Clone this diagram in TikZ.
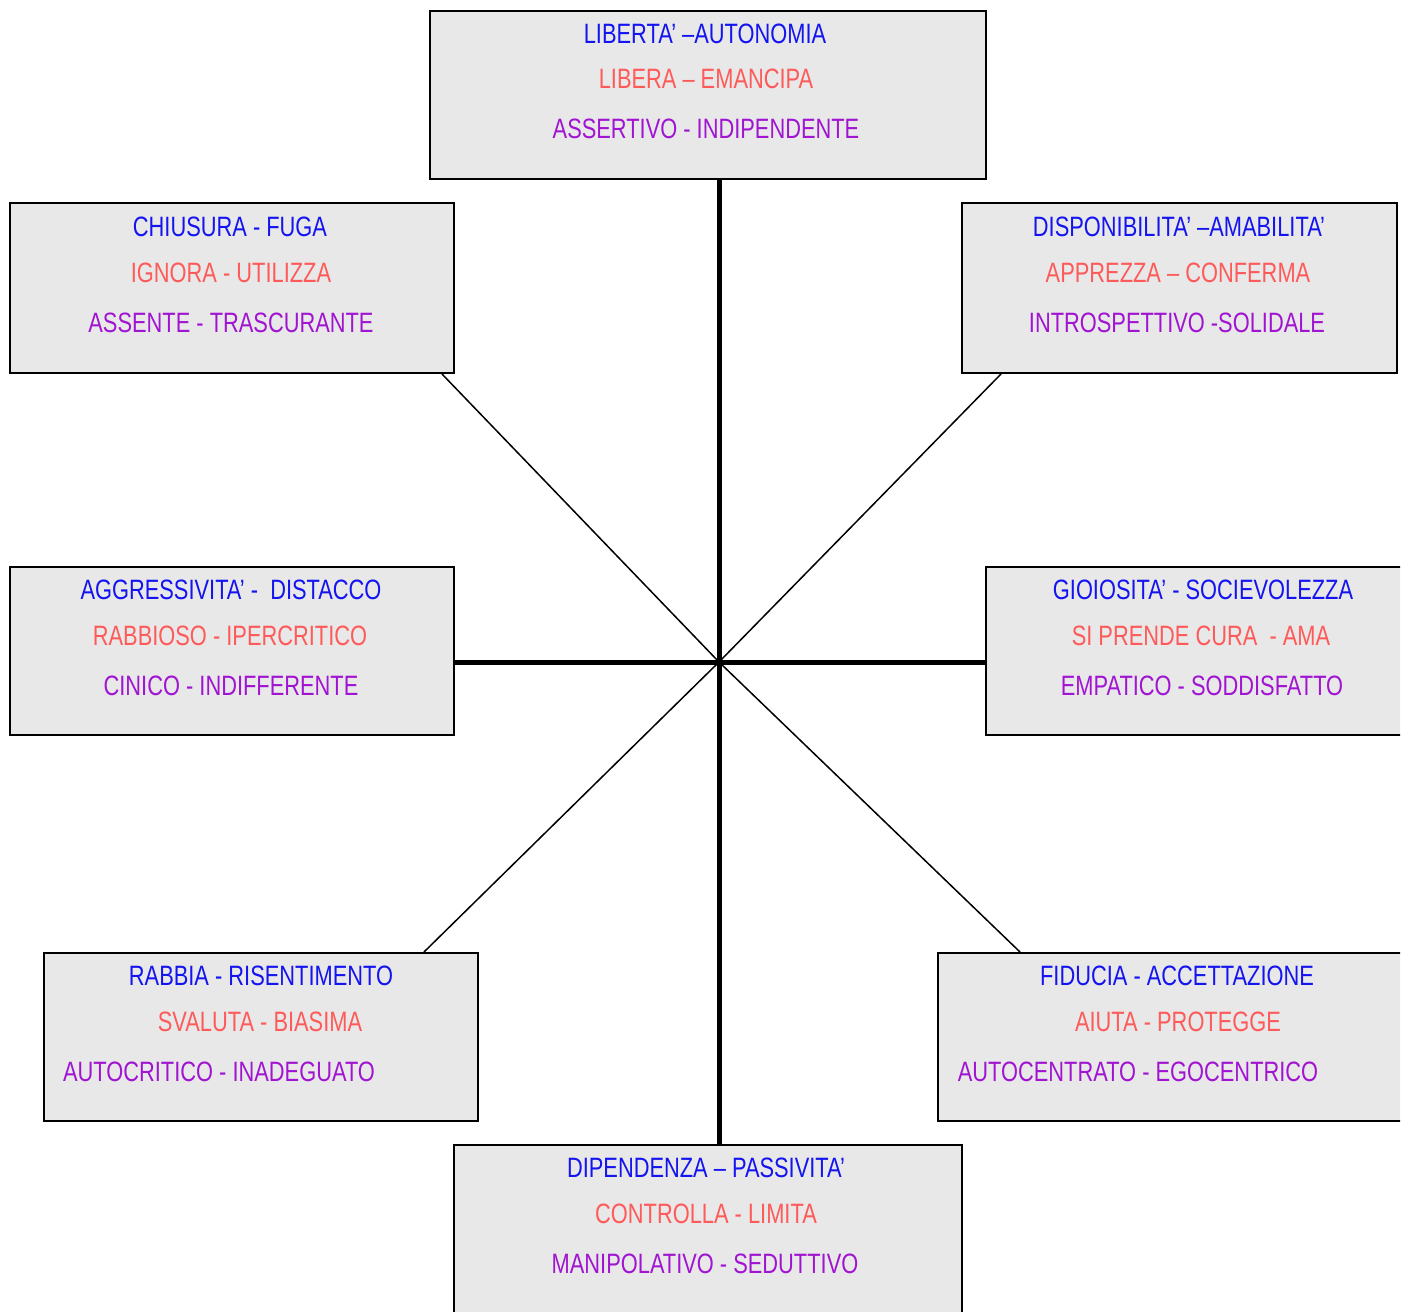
\documentclass[tikz,border=0pt]{standalone}
\usepackage{fontspec}
\setmainfont{Liberation Sans}[FakeStretch=0.78]
\usetikzlibrary{calc}
\definecolor{boxfill}{RGB}{232,232,232}
\definecolor{tblue}{RGB}{20,20,240}
\definecolor{tred}{RGB}{255,90,90}
\definecolor{tpurple}{RGB}{160,20,210}
\begin{document}
\begin{tikzpicture}[x=1pt,y=-1pt,
  box/.style={draw=black,line width=2pt,fill=boxfill,rectangle,inner sep=0pt,anchor=north west},
  lbl/.style={anchor=base,inner sep=0pt,font=\fontsize{28}{28}\selectfont},
  l1/.style={lbl,text=tblue},
  l2/.style={lbl,text=tred},
  l3/.style={lbl,text=tpurple},
  axis/.style={line width=5pt,draw=black},
  ray/.style={line width=1.5pt,draw=black}]
\useasboundingbox (0,0) rectangle (1409,1312);
\begin{scope}
\clip (0,0) rectangle (1400,1312);
\coordinate (C) at (719,662);
% boxes
\node[box,minimum width=556pt,minimum height=168pt] (T) at (429,10) {};
\node[box,minimum width=444pt,minimum height=170pt] (TL) at (9,202) {};
\node[box,minimum width=435pt,minimum height=170pt] (TR) at (961,202) {};
\node[box,minimum width=444pt,minimum height=168pt] (ML) at (9,566) {};
\node[box,minimum width=440pt,minimum height=168pt] (MR) at (985,566) {};
\node[box,minimum width=434pt,minimum height=168pt] (BL) at (43,952) {};
\node[box,minimum width=480pt,minimum height=168pt] (BR) at (937,952) {};
\node[box,minimum width=508pt,minimum height=190pt] (B) at (453,1144) {};
% connectors
\draw[axis] (C |- T.south) -- (C |- B.north);
\draw[axis] (ML.east |- C) -- (MR.west |- C);
\draw[ray] ($(TL.south east)+(-13,0)$) -- (C);
\draw[ray] ($(TR.south west)+(40,0)$) -- (C);
\draw[ray] ($(BL.north east)+(-55,0)$) -- (C);
\draw[ray] ($(BR.north west)+(83,0)$) -- (C);
% texts
\node[l1] (T1) at (705,43) {LIBERTA’ –AUTONOMIA};
\node[l2] (T2) at (706,88) {LIBERA – EMANCIPA};
\node[l3] (T3) at (706,138) {ASSERTIVO - INDIPENDENTE};
\node[l1] (TL1) at (230,236) {CHIUSURA - FUGA};
\node[l2] (TL2) at (231,282) {IGNORA - UTILIZZA};
\node[l3] (TL3) at (231,332) {ASSENTE - TRASCURANTE};
\node[l1] (TR1) at (1179,236) {DISPONIBILITA’ –AMABILITA’};
\node[l2] (TR2) at (1178,282) {APPREZZA – CONFERMA};
\node[l3] (TR3) at (1177,332) {INTROSPETTIVO -SOLIDALE};
\node[l1] (ML1) at (231,599) {AGGRESSIVITA’ -~~DISTACCO};
\node[l2] (ML2) at (230,645) {RABBIOSO - IPERCRITICO};
\node[l3] (ML3) at (231,695) {CINICO - INDIFFERENTE};
\node[l1] (MR1) at (1203,599) {GIOIOSITA’ - SOCIEVOLEZZA};
\node[l2] (MR2) at (1201,645) {SI PRENDE CURA~~- AMA};
\node[l3] (MR3) at (1202,695) {EMPATICO - SODDISFATTO};
\node[l1] (BL1) at (261,985) {RABBIA - RISENTIMENTO};
\node[l2] (BL2) at (260,1031) {SVALUTA - BIASIMA};
\node[l3] (BL3) at (219,1081) {AUTOCRITICO - INADEGUATO};
\node[l1] (BR1) at (1177,985) {FIDUCIA - ACCETTAZIONE};
\node[l2] (BR2) at (1178,1031) {AIUTA - PROTEGGE};
\node[l3] (BR3) at (1138,1081) {AUTOCENTRATO - EGOCENTRICO};
\node[l1] (B1) at (706,1177) {DIPENDENZA – PASSIVITA’};
\node[l2] (B2) at (706,1223) {CONTROLLA - LIMITA};
\node[l3] (B3) at (705,1273) {MANIPOLATIVO - SEDUTTIVO};
\end{scope}
\end{tikzpicture}
\end{document}
